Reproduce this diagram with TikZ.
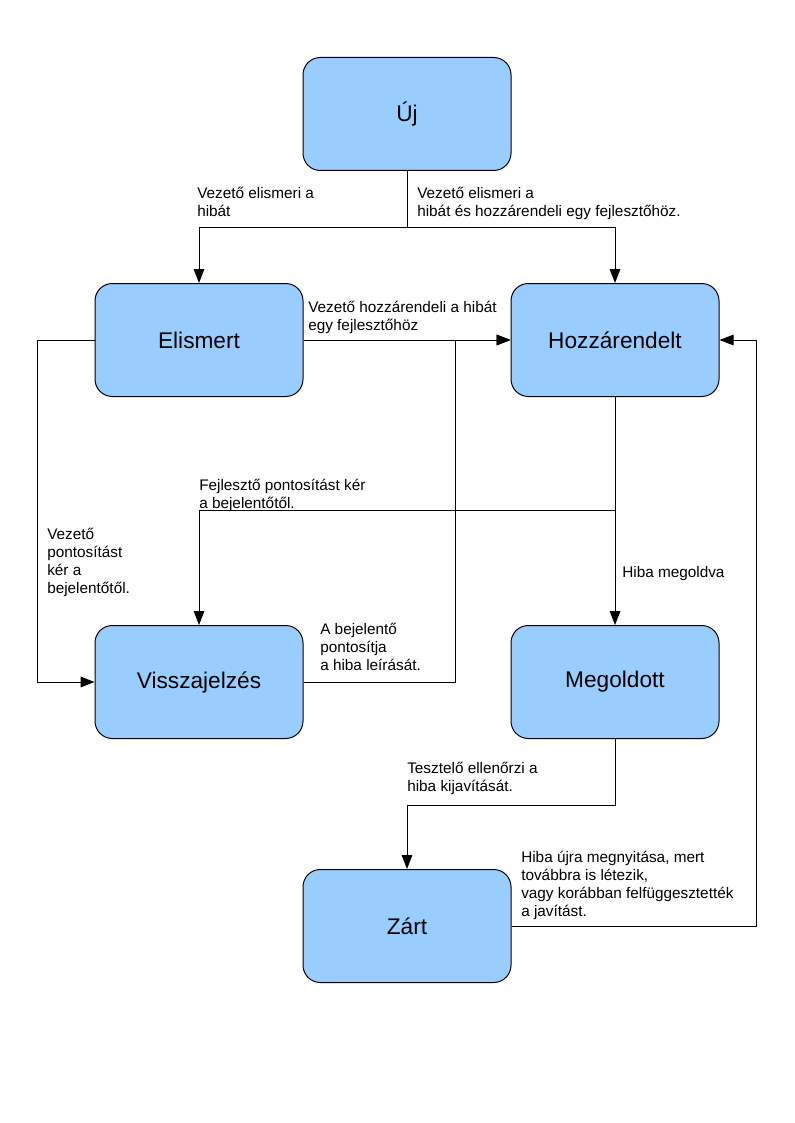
\documentclass[tikz,border=0pt]{standalone}
\usepackage{fontspec}
\setmainfont{Liberation Sans}
\usetikzlibrary{positioning, arrows.meta}
\definecolor{boxblue}{HTML}{99CCFF}

\begin{document}
\begin{tikzpicture}[
    x=0.75pt, y=-0.75pt, % 1 unit = 1 pixel of the page
    font=\fontsize{11.5}{13.4}\selectfont,
    % --- STYLES ---
    state_box/.style={
        draw=black,
        line width=0.75pt,
        fill=boxblue,
        rounded corners=13pt,
        minimum width=156pt,  % Box width
        minimum height=84.75pt, % Box height
        font=\fontsize{17}{20}\selectfont
    },
    edge_label/.style={align=left, anchor=north west, inner sep=0pt},
    arrow_style/.style={-{Triangle[length=10.5pt, width=8pt]}, line width=0.75pt},
    line_style/.style={line width=0.75pt}
]
\useasboundingbox (0,0) rectangle (794,1123);

% --- STATE BOXES ---
\node[state_box] (uj) at (407,114) {Új};
\node[state_box] (elismert) at (199,340) {Elismert};
\node[state_box, right=155.25pt of elismert] (hozza) {Hozzárendelt};
\node[state_box, below=171pt of elismert] (vissza) {Visszajelzés};
\node[state_box, below=171pt of hozza] (megold) {Megoldott};
\node[state_box] (zart) at (407,926) {Zárt};

% --- ARROWS ---
% Új splits to Elismert and Hozzárendelt
\coordinate (uj_split) at (407,228);
\draw[line_style] (uj) -- (uj_split);
\draw[arrow_style] (uj_split) -| (elismert);
\draw[arrow_style] (uj_split) -| (hozza);
% Elismert -> Hozzárendelt
\draw[arrow_style] (elismert) -- (hozza);
% Elismert -> Visszajelzés (left side)
\draw[arrow_style] (elismert.west) -- ++(-57,0) |- (vissza.west);
% Hozzárendelt -> Megoldott
\draw[arrow_style] (hozza) -- (megold);
% Hozzárendelt -> Visszajelzés
\coordinate (hozza_split) at (615,510);
\draw[arrow_style] (hozza_split) -| (vissza);
% Visszajelzés -> Hozzárendelt (joins the Elismert line)
\draw[arrow_style] (vissza.east) -- ++(152,0) |- (hozza.west);
% Megoldott -> Zárt
\draw[arrow_style] (megold.south) -- ++(0,66) -| (zart.north);
% Zárt -> Hozzárendelt (right side)
\draw[arrow_style] (zart.east) -- ++(245,0) |- (hozza.east);

% --- LABELS ---
\node[edge_label] (l_uj_el) at (197,187) {Vezető elismeri a\\hibát};
\node[edge_label] (l_uj_ho) at (417,187) {Vezető elismeri a\\hibát és hozzárendeli egy fejlesztőhöz.};
\node[edge_label] (l_el_ho) at (308,301) {Vezető hozzárendeli a hibát\\egy fejlesztőhöz};
\node[edge_label] (l_ho_vi) at (199,479) {Fejlesztő pontosítást kér\\a bejelentőtől.};
\node[edge_label, font=\fontsize{11.5}{13.6}\selectfont] (l_el_vi) at (47,528) {Vezető\\pontosítást\\kér a\\bejelentőtől.};
\node[edge_label] (l_vi_ho) at (320,623) {A bejelentő\\pontosítja\\a hiba leírását.};
\node[edge_label] (l_ho_me) at (622,566) {Hiba megoldva};
\node[edge_label] (l_me_za) at (407,762) {Tesztelő ellenőrzi a\\hiba kijavítását.};
\node[edge_label] (l_za_ho) at (521,851) {Hiba újra megnyitása, mert\\továbbra is létezik,\\vagy korábban felfüggesztették\\a javítást.};

\end{tikzpicture}
\end{document}
